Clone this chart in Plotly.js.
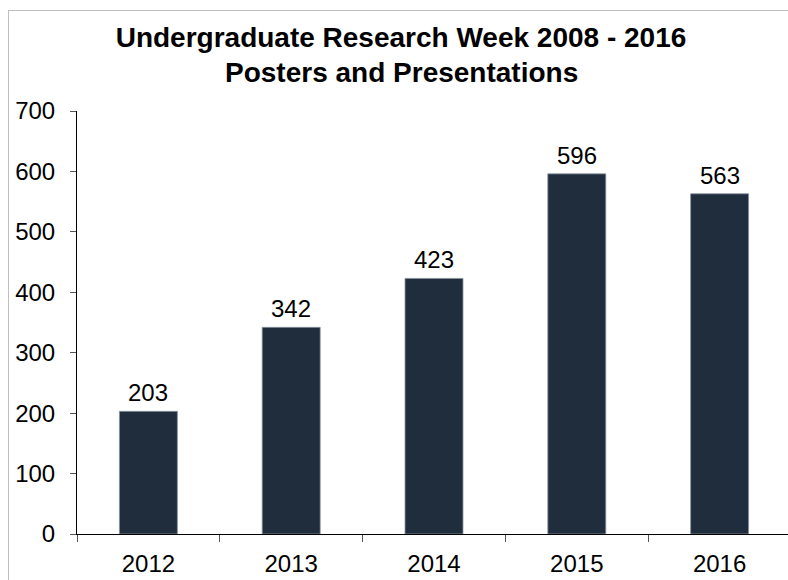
<!DOCTYPE html>
<html>
<head>
<meta charset="utf-8">
<script src="https://cdn.plot.ly/plotly-3.0.1.min.js"></script>
<style>
html,body{margin:0;padding:0;overflow:hidden;background:#fff;}
#wrap{position:relative;width:788px;height:580px;overflow:hidden;}
#chart{position:absolute;left:0;top:0;width:791px;height:580px;}
#frame{position:absolute;left:8px;top:10px;width:820px;height:620px;border-left:1px solid #bfbfbf;border-top:1px solid #bfbfbf;pointer-events:none;}
</style>
</head>
<body>
<div id="wrap"><div id="chart"></div><div id="frame"></div></div>
<script>
const years = ['2012', '2013', '2014', '2015', '2016'];
const counts = [203, 342, 423, 596, 563];
const yTicks = [0, 100, 200, 300, 400, 500, 600, 700];
const titleMain = 'Undergraduate Research Week 2008 - 2016';
const titleSub = 'Posters and Presentations';

const font = 'Liberation Sans, Arial, sans-serif';

const trace = {
  type: 'bar',
  x: years,
  y: counts,
  width: 0.406,
  marker: {color: '#1f2d3d', line: {color: '#8a949e', width: 0.8}},
  hoverinfo: 'none'
};

const annotations = years.map((yr, i) => ({
  x: i, y: counts[i], xref: 'x', yref: 'y',
  text: String(counts[i]), showarrow: false,
  yanchor: 'bottom', yshift: 3,
  font: {family: font, size: 24, color: '#000'}
}));

annotations.push({
  text: '<b>' + titleSub + '</b>', showarrow: false,
  xref: 'paper', yref: 'paper', x: (401 - 77) / 714, y: 1,
  xanchor: 'center', yanchor: 'bottom', yshift: 21,
  font: {family: font, size: 28, color: '#000'}
});

const layout = {
  width: 791, height: 580,
  margin: {l: 77, r: 0, t: 111, b: 46, pad: 0},
  paper_bgcolor: '#fff', plot_bgcolor: '#fff',
  font: {family: font, size: 24, color: '#000'},
  title: {
    text: '<b>' + titleMain + '</b>',
    x: 401 / 791, xanchor: 'center', xref: 'container',
    y: 1 - 27 / 580, yanchor: 'top', yref: 'container',
    font: {family: font, size: 28, color: '#000'}
  },
  showlegend: false,
  xaxis: {
    type: 'category', range: [-0.5, 4.5], showline: true, linecolor: '#000', linewidth: 1,
    ticks: 'outside', ticklen: 7, tickcolor: '#555', tickson: 'boundaries',
    showgrid: false, zeroline: false, ticklabelstandoff: 8,
    tickfont: {family: font, size: 24, color: '#000'}, fixedrange: true
  },
  yaxis: {
    range: [0, 700], tickvals: yTicks, showline: true, linecolor: '#000', linewidth: 1,
    ticks: 'outside', ticklen: 6, tickcolor: '#555', showgrid: false, zeroline: false,
    ticklabelstandoff: 10,
    tickfont: {family: font, size: 24, color: '#000'}, fixedrange: true
  },
  annotations: annotations
};

Plotly.newPlot('chart', [trace], layout, {displayModeBar: false, staticPlot: true});
</script>
</body>
</html>
